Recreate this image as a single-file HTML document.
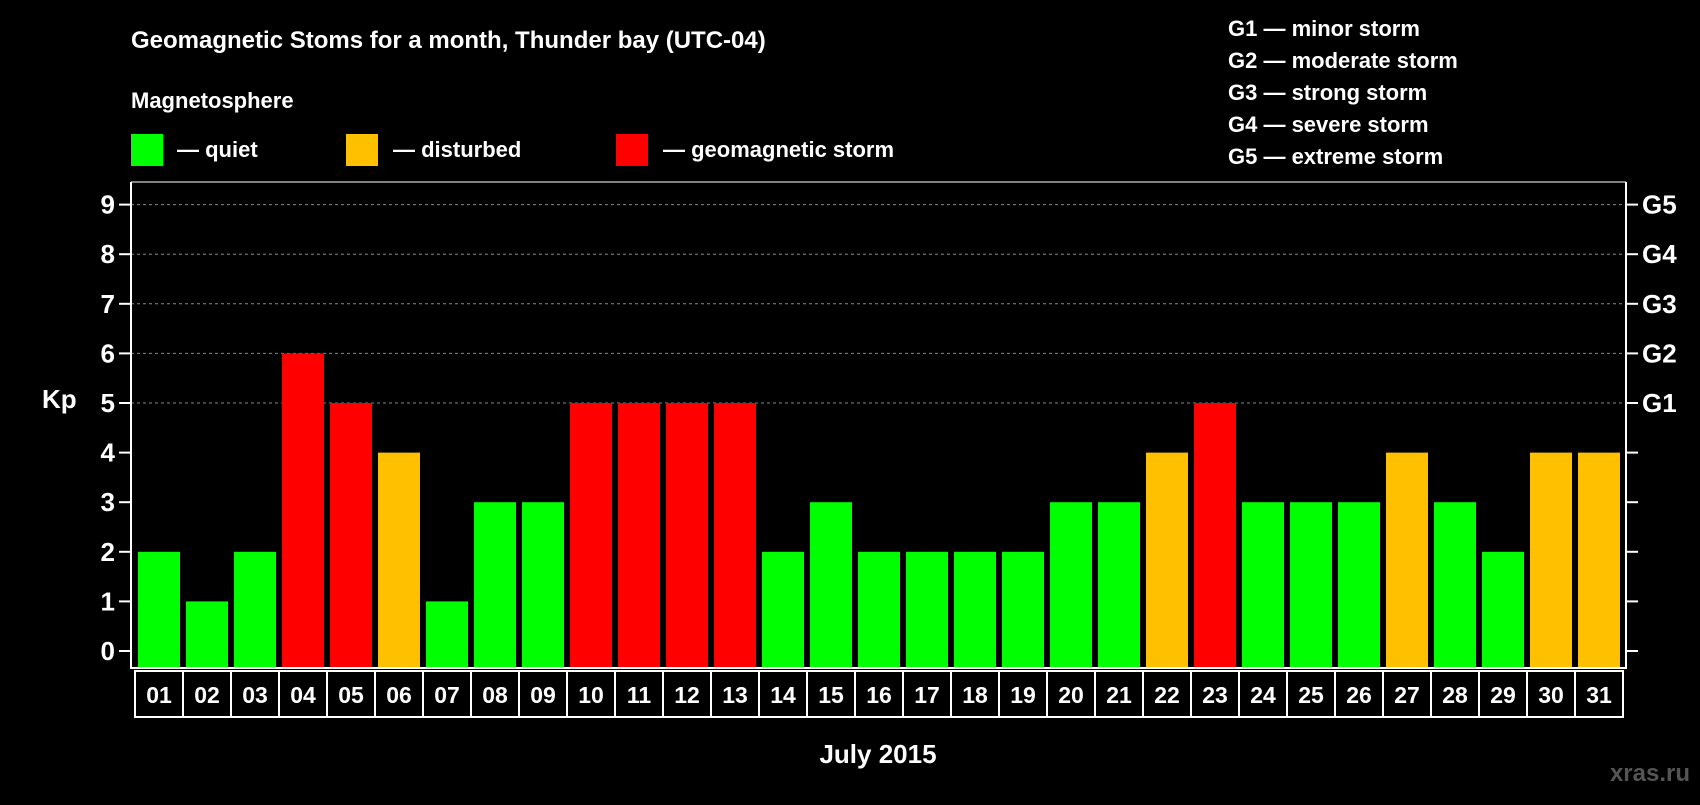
<!DOCTYPE html>
<html><head><meta charset="utf-8"><style>
body{margin:0;background:#000;width:1700px;height:800px;overflow:hidden;font-family:"Liberation Sans",Arial,sans-serif}
text{font-family:"Liberation Sans",Arial,sans-serif;font-weight:bold;fill:#fff}
</style></head><body>
<svg id="chart" width="1700" height="800" xmlns="http://www.w3.org/2000/svg">
<text x="131" y="48" font-size="24">Geomagnetic Stoms for a month, Thunder bay (UTC-04)</text>
<text x="131" y="108" font-size="22">Magnetosphere</text>
<g>
<rect x="131" y="134" width="32" height="32" fill="#00ff00"/>
<text x="177" y="157" font-size="22">— quiet</text>
<rect x="346" y="134" width="32" height="32" fill="#ffc000"/>
<text x="393" y="157" font-size="22">— disturbed</text>
<rect x="616" y="134" width="32" height="32" fill="#ff0000"/>
<text x="663" y="157" font-size="22">— geomagnetic storm</text>
</g>
<g font-size="22">
<text x="1228" y="36">G1 — minor storm</text>
<text x="1228" y="68">G2 — moderate storm</text>
<text x="1228" y="100">G3 — strong storm</text>
<text x="1228" y="132">G4 — severe storm</text>
<text x="1228" y="164">G5 — extreme storm</text>
</g>
<g id="grid"></g><g id="bars"></g><g id="axes"></g><g id="labels"></g>
<text x="42" y="408" font-size="26">Kp</text>
<text x="878" y="763" font-size="26" text-anchor="middle">July 2015</text>
<text x="1690" y="781" font-size="24" text-anchor="end" style="fill:#555">xras.ru</text>
</svg>
<script>
const days=["01","02","03","04","05","06","07","08","09","10","11","12","13","14","15","16","17","18","19","20","21","22","23","24","25","26","27","28","29","30","31"];
const kp=[2,1,2,6,5,4,1,3,3,5,5,5,5,2,3,2,2,2,2,3,3,4,5,3,3,3,4,3,2,4,4];
const yTicks=[0,1,2,3,4,5,6,7,8,9];
const gLabels=["","","","","","G1","G2","G3","G4","G5"];
const NS="http://www.w3.org/2000/svg";
const L=131,R=1626,T=182,B=668,Y0=651,U=49.6,X0=138,P=48,W=42;
const y=v=>Y0-v*U, x=i=>X0+i*P;
function mk(t,a,p){const e=document.createElementNS(NS,t);for(const k in a)e.setAttribute(k,a[k]);p.appendChild(e);return e;}
const grid=document.getElementById('grid'),bars=document.getElementById('bars'),axes=document.getElementById('axes'),labels=document.getElementById('labels');
yTicks.forEach((v,i)=>{
 if(v>=5){const g=mk('line',{x1:L,x2:R,y1:y(v),y2:y(v),stroke:'#888','stroke-dasharray':'3,3','stroke-width':1},grid);
 }
 const t1=mk('line',{x1:L-12,x2:L,y1:y(v),y2:y(v),stroke:'#fff','stroke-width':2},axes);
 const t2=mk('line',{x1:R,x2:R+12,y1:y(v),y2:y(v),stroke:'#fff','stroke-width':2},axes);
 const tl=mk('text',{x:L-16,y:y(v)+9,'font-size':26,'text-anchor':'end'},axes);tl.textContent=v;
 
 if(gLabels[i]){const gl=mk('text',{x:R+16,y:y(v)+9,'font-size':26},axes);gl.textContent=gLabels[i];
 }
});
kp.forEach((v,i)=>{
 const c=v>=5?'#ff0000':v==4?'#ffc000':'#00ff00';
 const b=mk('rect',{x:x(i),y:y(v),width:W,height:B-y(v),fill:c},bars);
 
 const bx=mk('rect',{x:x(i)-3,y:B+3,width:P,height:46,fill:'none',stroke:'#fff','stroke-width':2},labels);
 
 const t=mk('text',{x:x(i)+W/2,y:B+35,'font-size':23,'text-anchor':'middle'},labels);t.textContent=days[i];
 
});
const fr=mk('polyline',{points:`${L},${T} ${L},${B} ${R},${B} ${R},${T}`,fill:'none',stroke:'#fff','stroke-width':2},axes);

const tp=mk('line',{x1:L,x2:R,y1:T,y2:T,stroke:'#fff','stroke-width':1},axes);

</script>
</body></html>
